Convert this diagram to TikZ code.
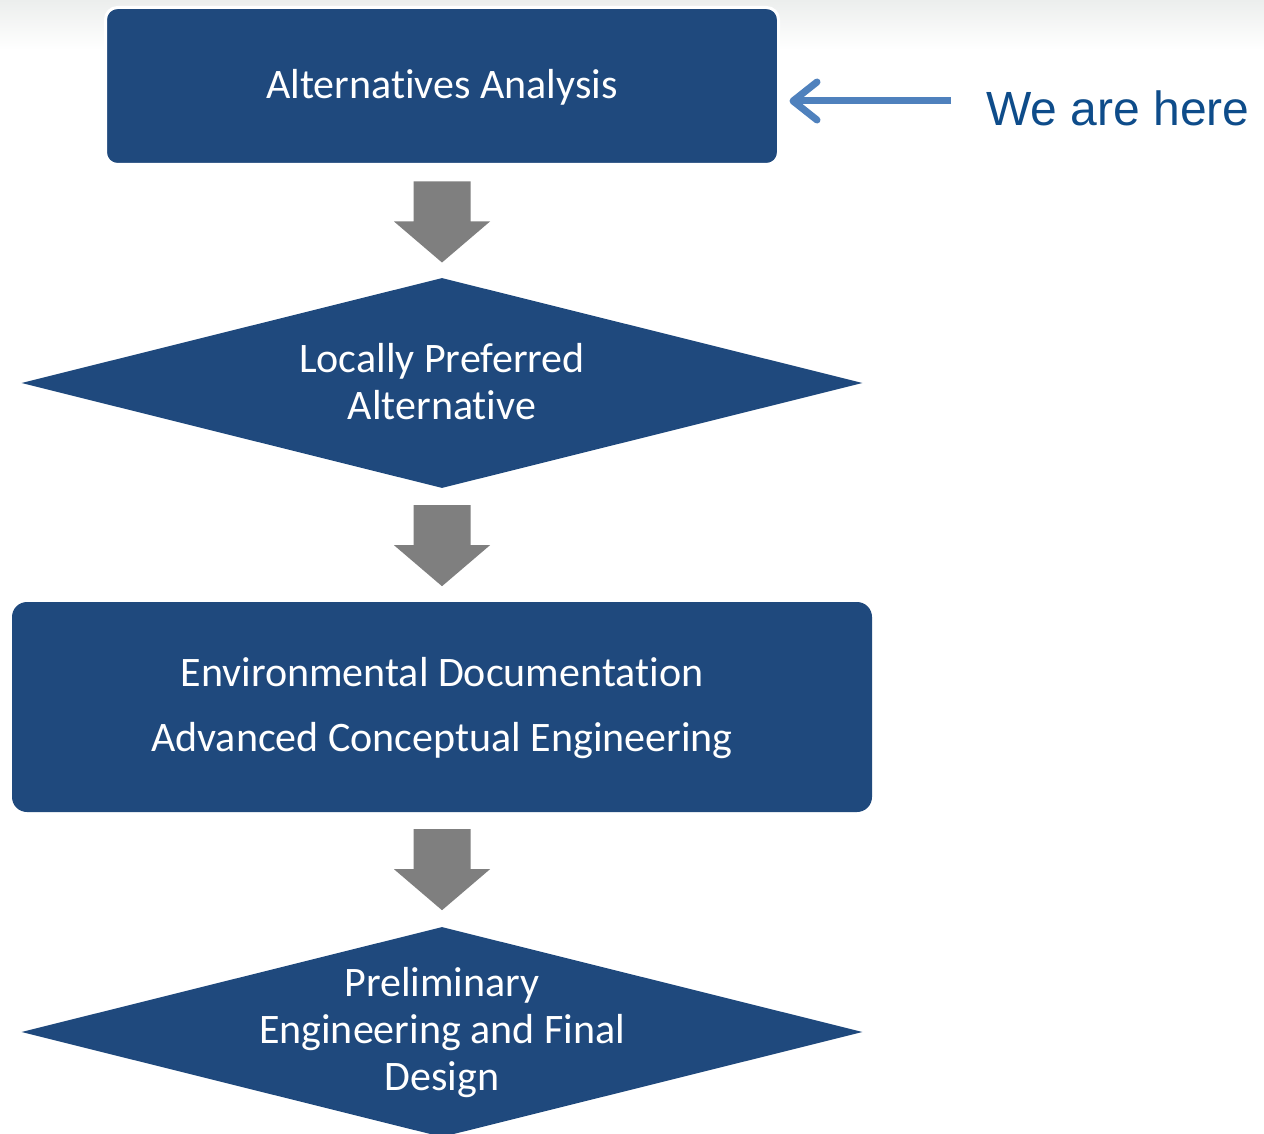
\documentclass[tikz,border=0pt]{standalone}
\usepackage{fontspec}
\setmainfont{Carlito}[Ligatures={NoCommon}]
\newfontfamily\arialfont{Liberation Sans}
\usetikzlibrary{shapes.geometric,calc,arrows.meta}
\definecolor{stepblue}{HTML}{1F497D}
\definecolor{stepgray}{HTML}{7F7F7F}
\definecolor{pointerblue}{HTML}{4F81BD}
\definecolor{notecolor}{HTML}{0E4C8A}
\definecolor{topshade}{HTML}{ECEEED}
\tikzset{
  stepbox/.style={rectangle, fill=stepblue, inner sep=0pt},
  decisionbox/.style={diamond, fill=stepblue, inner sep=0pt, minimum width=841pt, minimum height=210pt},
  steptext/.style={text=white, align=center, font=\fontsize{42}{47}\selectfont},
  blockarrow/.style={fill=stepgray},
  herearrow/.style={draw=pointerblue, line width=7pt, -{Straight Barb[length=24pt, width=38pt, round]}},
}
% block arrow pointing down from the bottom of one shape towards the next
\newcommand{\downblock}[1]{%
  \fill[blockarrow] ($(#1)+(0,17)$) ++(-28.5,0) -- ++(57,0) -- ++(0,40) -- ++(19.5,0)
    -- ++(-48,41) -- ++(-48,-41) -- ++(19.5,0) -- cycle;}
\begin{document}
\begin{tikzpicture}[x=1pt,y=-1pt]
  \useasboundingbox (0,0) rectangle (1264,1134);
  \clip (0,0) rectangle (1264,1134);
  \fill[white] (0,0) rectangle (1264,1134);
  \shade[top color=topshade, bottom color=white] (0,0) rectangle (1264,50);

  % first step
  \node[stepbox, draw=white, line width=3pt, rounded corners=12pt,
        minimum width=673pt, minimum height=157pt, outer sep=0pt] (aa) at (442,86) {};
  \node[steptext] (aat) at (442,87) {Alternatives Analysis};

  % decision: locally preferred alternative
  \node[decisionbox] (lpa) at (442,383) {};
  \node[steptext] (lpat) at (442,382) {Locally Preferred\\Alternative};

  % environmental documentation step
  \node[stepbox, rounded corners=15pt, minimum width=860pt, minimum height=210pt] (env) at (442,707) {};
  \node[steptext, font=\fontsize{42}{65}\selectfont] (envt) at (442,708)
    {Environmental Documentation\\Advanced Conceptual Engineering};

  % decision: preliminary engineering and final design
  \node[decisionbox] (pe) at (442,1032) {};
  \node[steptext] (pet) at (442,1033) {Preliminary\\Engineering and Final\\Design};

  % flow arrows
  \downblock{aa.south}
  \downblock{lpa.south}
  \downblock{env.south}

  % pointer to the current step
  \node[anchor=west, text=notecolor, font=\arialfont\fontsize{48}{50}\selectfont,
        inner sep=0pt] (here) at (986,108) {We are here};
  \coordinate (tail) at (951,101);
  \coordinate (tip) at ($(aa.east)+(11,15)$);
  \draw[herearrow] (tail) -- (tip);
\end{tikzpicture}
\end{document}
